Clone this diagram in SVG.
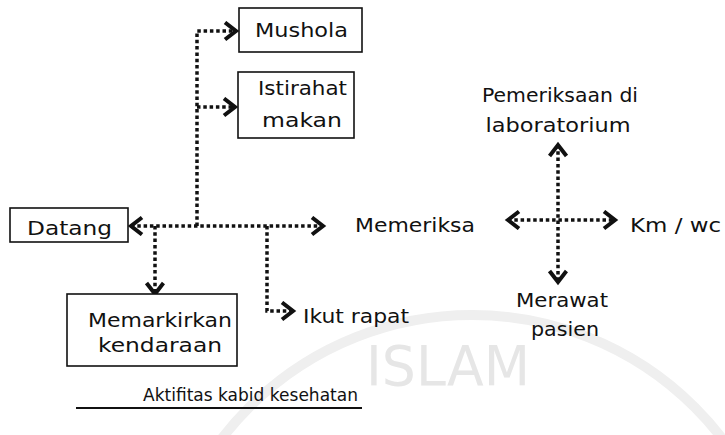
<svg xmlns="http://www.w3.org/2000/svg" width="725" height="435" viewBox="0 0 725 435">
  <style>
    .bg { fill: #ffffff; }
    .box { fill: #ffffff; stroke: #111111; stroke-width: 1.6; }
    .lbl { font-family: "DejaVu Sans", "Liberation Sans", sans-serif; font-size: 20px; fill: #111111; }
    .cap { font-family: "DejaVu Sans", "Liberation Sans", sans-serif; font-size: 18px; fill: #111111; }
    .dot { fill: none; stroke: #111111; stroke-width: 3.5; stroke-dasharray: 3.5 2.8; marker-end: url(#chev); }
    .both { marker-start: url(#chev); }
    .wm { fill: #e6e6e6; font-family: "DejaVu Sans", "Liberation Sans", sans-serif; font-size: 56px; }
    .ring { fill: none; stroke: #efefef; stroke-width: 10; }
  </style>
  <defs>
    <marker id="chev" markerUnits="userSpaceOnUse" markerWidth="18" markerHeight="22" refX="13" refY="10" orient="auto-start-reverse">
      <path d="M2,1.5 L13,10 L2,18.5" fill="none" stroke="#111111" stroke-width="4" stroke-linejoin="miter"/>
    </marker>
  </defs>
  <rect class="bg" x="0" y="0" width="725" height="435"/>

  <g id="watermark">
    <circle class="ring" cx="472" cy="630" r="315"/>
    <text class="wm" x="366" y="385" textLength="164" lengthAdjust="spacingAndGlyphs">ISLAM</text>
  </g>

  <g id="connectors">
    <path class="dot both" d="M131,226 H323"/>
    <path class="dot" d="M197,226 V31 H236"/>
    <path class="dot" d="M197,107 H235"/>
    <path class="dot" d="M155,226 V294"/>
    <path class="dot" d="M267,226 V311 H293"/>
    <path class="dot both" d="M508,220 H615"/>
    <path class="dot both" d="M558,145 V282"/>
  </g>

  <g id="node-mushola">
    <rect class="box" x="239" y="8" width="123" height="44"/>
    <text class="lbl" x="301.5" y="37" text-anchor="middle" textLength="93" lengthAdjust="spacingAndGlyphs">Mushola</text>
  </g>
  <g id="node-istirahat">
    <rect class="box" x="238" y="72" width="116" height="66"/>
    <text class="lbl" x="302.5" y="95" text-anchor="middle" textLength="89" lengthAdjust="spacingAndGlyphs">Istirahat</text>
    <text class="lbl" x="302" y="127" text-anchor="middle" textLength="80" lengthAdjust="spacingAndGlyphs">makan</text>
  </g>
  <g id="node-datang">
    <rect class="box" x="10" y="208" width="118" height="34"/>
    <text class="lbl" x="69.5" y="235" text-anchor="middle" textLength="85" lengthAdjust="spacingAndGlyphs">Datang</text>
  </g>
  <g id="node-memarkirkan">
    <rect class="box" x="67" y="294" width="170" height="72"/>
    <text class="lbl" x="160" y="327" text-anchor="middle" textLength="144" lengthAdjust="spacingAndGlyphs">Memarkirkan</text>
    <text class="lbl" x="160" y="352" text-anchor="middle" textLength="124" lengthAdjust="spacingAndGlyphs">kendaraan</text>
  </g>
  <g id="node-ikut-rapat">
    <text class="lbl" x="303" y="323" textLength="106" lengthAdjust="spacingAndGlyphs">Ikut rapat</text>
  </g>
  <g id="node-memeriksa">
    <text class="lbl" x="355" y="232" textLength="120" lengthAdjust="spacingAndGlyphs">Memeriksa</text>
  </g>
  <g id="node-kmwc">
    <text class="lbl" x="630" y="232" textLength="91" lengthAdjust="spacingAndGlyphs">Km / wc</text>
  </g>
  <g id="node-laboratorium">
    <text class="lbl" x="560" y="102" text-anchor="middle" textLength="156" lengthAdjust="spacingAndGlyphs">Pemeriksaan di</text>
    <text class="lbl" x="558" y="132" text-anchor="middle" textLength="145" lengthAdjust="spacingAndGlyphs">laboratorium</text>
  </g>
  <g id="node-merawat">
    <text class="lbl" x="562" y="307" text-anchor="middle" textLength="92" lengthAdjust="spacingAndGlyphs">Merawat</text>
    <text class="lbl" x="565" y="336" text-anchor="middle" textLength="68" lengthAdjust="spacingAndGlyphs">pasien</text>
  </g>

  <g id="caption">
    <text class="cap" x="143" y="401" textLength="215" lengthAdjust="spacingAndGlyphs">Aktifitas kabid kesehatan</text>
    <line x1="76" y1="408" x2="362" y2="408" stroke="#111111" stroke-width="1.8"/>
  </g>
</svg>
